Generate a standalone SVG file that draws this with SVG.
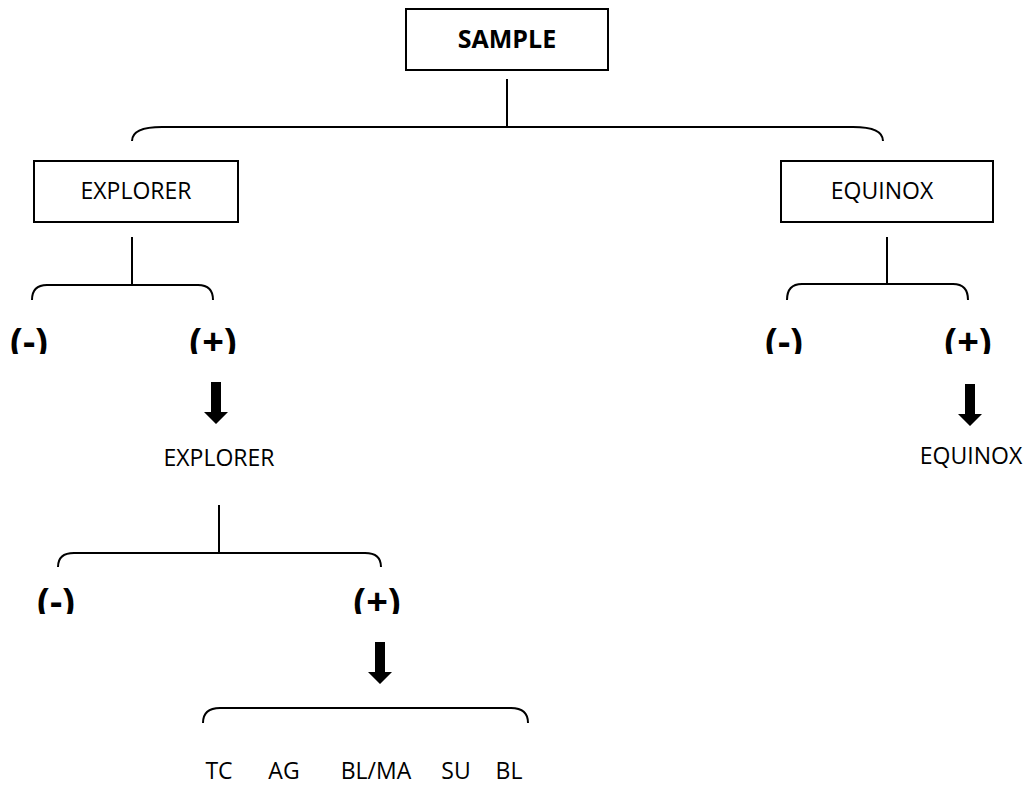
<svg xmlns="http://www.w3.org/2000/svg" width="1027" height="787" viewBox="0 0 1027 787">
<style>
.box{fill:#fff;stroke:#000;stroke-width:2}
.ln{fill:none;stroke:#000;stroke-width:2}
.t{font-family:"Open Sans","Liberation Sans",sans-serif;font-size:23px;fill:#000;text-anchor:middle}
.b{font-family:"Open Sans","Liberation Sans",sans-serif;font-size:25px;font-weight:bold;fill:#000;text-anchor:middle}
.pm{font-family:"Open Sans","Liberation Sans",sans-serif;font-size:38px;font-weight:bold;fill:#000;text-anchor:middle}
.arr{fill:#000}
</style>
<defs>
<path id="arrow" d="M-5,0 H5 V30 H12 L0,42 L-12,30 H-5 Z"/>
<clipPath id="c1"><rect x="0" y="300" width="1027" height="54"/></clipPath>
<clipPath id="c2"><rect x="0" y="570" width="1027" height="44"/></clipPath>
</defs>
<rect width="1027" height="787" fill="#fff"/>
<g id="connectors">
<path class="ln" d="M507,79 V127"/>
<path class="ln" d="M132,141 Q132,127 162,127 H853 Q883,127 883,141"/>
<path class="ln" d="M132,237 V285"/>
<path class="ln" d="M32,300 Q32,285 47,285 H198 Q213,285 213,300"/>
<path class="ln" d="M887,237 V284"/>
<path class="ln" d="M787,300 Q787,284 802,284 H953 Q968,284 968,300"/>
<path class="ln" d="M219,505 V553"/>
<path class="ln" d="M58,567 Q58,553 74,553 H365 Q381,553 381,567"/>
<path class="ln" d="M203,723 Q203,708 220,708 H511 Q528,708 528,723"/>
<use href="#arrow" x="216" y="382" class="arr"/>
<use href="#arrow" x="970" y="384" class="arr"/>
<use href="#arrow" x="380" y="642" class="arr"/>
</g>
<g id="sample"><rect class="box" x="406" y="9" width="202" height="61"/><text class="b" x="507" y="48">SAMPLE</text></g>
<g id="explorer"><rect class="box" x="34" y="161" width="204" height="61"/><text class="t" x="136" y="199">EXPLORER</text></g>
<g id="equinox"><rect class="box" x="781" y="161" width="212" height="61"/><text class="t" x="882" y="199">EQUINOX</text></g>
<g id="exp-neg" clip-path="url(#c1)"><text class="pm" x="29" y="355">(-)</text></g>
<g id="exp-pos" clip-path="url(#c1)"><text class="pm" x="213" y="355">(+)</text></g>
<g id="equ-neg" clip-path="url(#c1)"><text class="pm" x="784" y="355">(-)</text></g>
<g id="equ-pos" clip-path="url(#c1)"><text class="pm" x="968" y="355">(+)</text></g>
<g id="explorer2"><text class="t" x="219" y="466">EXPLORER</text></g>
<g id="equinox2"><text class="t" x="971" y="464">EQUINOX</text></g>
<g id="exp2-neg" clip-path="url(#c2)"><text class="pm" x="56" y="615">(-)</text></g>
<g id="exp2-pos" clip-path="url(#c2)"><text class="pm" x="377" y="615">(+)</text></g>
<g id="results">
<text class="t" x="219" y="779">TC</text>
<text class="t" x="284" y="779">AG</text>
<text class="t" x="376" y="779">BL/MA</text>
<text class="t" x="456" y="779">SU</text>
<text class="t" x="509" y="779">BL</text>
</g>
</svg>
